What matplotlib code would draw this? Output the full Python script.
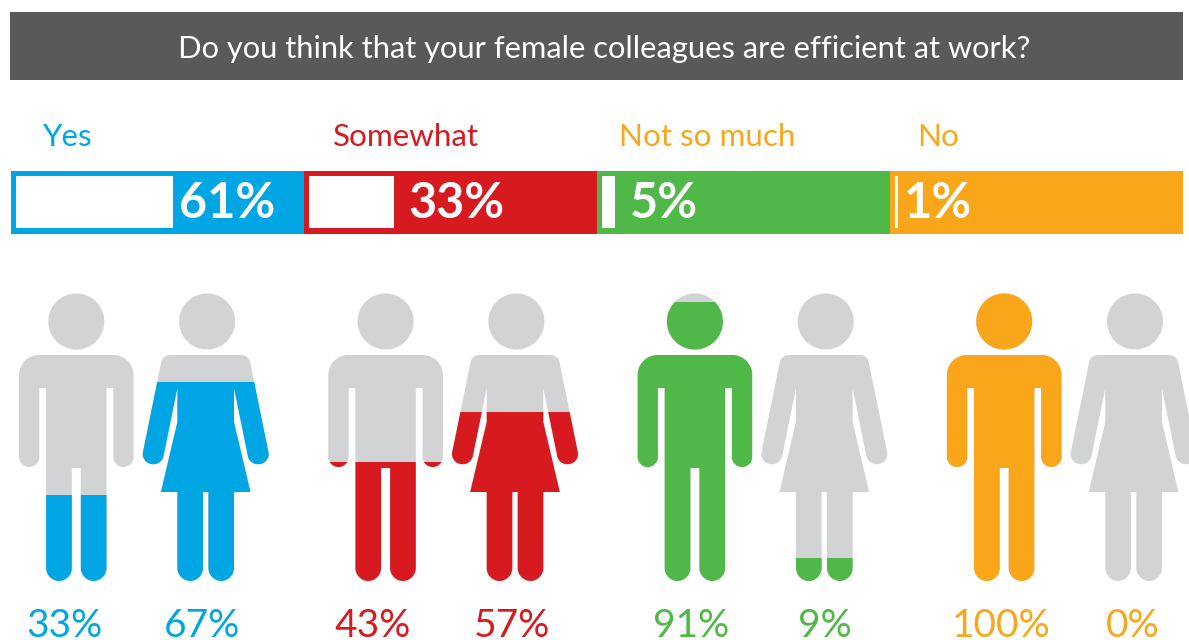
import matplotlib
matplotlib.use('Agg')
import matplotlib.pyplot as plt
from matplotlib.path import Path
from matplotlib.patches import PathPatch
import numpy as np

plt.rcParams['font.family'] = ['Lato', 'Open Sans', 'DejaVu Sans']

question = 'Do you think that your female colleagues are efficient at work?'
answers = ['Yes', 'Somewhat', 'Not so much', 'No']
overall = [61, 33, 5, 1]
male = [33, 43, 91, 100]
female = [67, 57, 9, 0]

answer_colors = ['#00a6e3', '#d71920', '#50b848', '#faa61a']
answer_text_colors = ['#00a6e3', '#d71920', '#faa61a', '#faa61a']
GRAY = '#d1d3d4'
DARK = '#58595b'

# layout, in pixels
answer_x = [43, 333, 619, 917]
overall_x = [179, 408, 630, 904]
male_label_x = [64.5, 373, 691, 1001]
female_label_x = [202, 512, 825, 1133]
BAR_LEFT = 10.5
BAR_W = 293.1
BAR_PX = 2.58       # white bar width per percent
STEP = 309.3        # distance between icon pairs
MALE_X = 76.3
FEMALE_X = 205.7

# fill scales of the two icons, y = base - slope * percent
MALE_BASE, MALE_SLOPE = 605, 3.33
FEMALE_BASE, FEMALE_SLOPE = 585, 3.03

# right half outlines of the icons: dx, y, corner radius
male_half = [(0, 355, 0), (57.3, 355, 20), (57.3, 467, 10), (37, 467, 10), (37, 388, 0),
             (30.2, 388, 0), (30.2, 581, 13), (4.5, 581, 13), (4.5, 468, 0), (0, 468, 0)]
female_half = [(0, 355, 0), (43, 355, 7), (64.8, 462, 10), (44.2, 466, 10), (28.3, 388, 0),
               (28.3, 422, 0), (44.8, 492, 0), (28.3, 492, 0), (28.3, 581, 13),
               (2.7, 581, 13), (2.7, 492, 0), (0, 492, 0)]


def rounded_outline(points):
    # closed polygon with bezier corners
    verts, codes = [], []
    n = len(points)
    k = 0.55
    for i in range(n):
        p = np.array(points[i][:2], float)
        r = points[i][2]
        prev = np.array(points[i - 1][:2], float)
        nxt = np.array(points[(i + 1) % n][:2], float)
        if r == 0:
            verts.append(p)
            codes.append(Path.LINETO)
            continue
        a = p + (prev - p) / np.linalg.norm(prev - p) * r
        b = p + (nxt - p) / np.linalg.norm(nxt - p) * r
        verts += [a, a + (p - a) * k, b + (p - b) * k, b]
        codes += [Path.LINETO, Path.CURVE4, Path.CURVE4, Path.CURVE4]
    codes[0] = Path.MOVETO
    verts.append(verts[0])
    codes.append(Path.CLOSEPOLY)
    return Path(np.array(verts), codes)


def icon_path(half, cx, head_x):
    left = [(-dx, y, r) for dx, y, r in reversed(half[1:-1])]
    outline = half + left
    body = rounded_outline([(cx + dx, y, r) for dx, y, r in outline])
    theta = np.linspace(0, 2 * np.pi, 80)
    head = Path(np.column_stack([head_x + 28 * np.cos(theta), 321.5 + 28 * np.sin(theta)]), closed=False)
    return Path.make_compound_path(body, head)


def draw_icon(path, level, color, label, label_x):
    icon = PathPatch(path, facecolor=GRAY, edgecolor='none')
    ax.add_patch(icon)
    # colored part is a bar from the fill level down, cut by the silhouette
    bars = ax.bar(path.vertices[:, 0].mean(), 640 - level, width=200, bottom=level, color=color)
    bars[0].set_clip_path(icon)
    ax.text(label_x, 637, label, color=color, fontsize=28, ha='center', va='baseline')


fig = plt.figure(figsize=(11.89, 6.40), dpi=100)
ax = fig.add_axes([0, 0, 1, 1])
ax.set_xlim(0, 1189)
ax.set_ylim(640, 0)
ax.axis('off')

# header band
ax.barh(46, 1173, height=68, left=10, color=DARK)
ax.text(604, 58, question, color='white', fontsize=22.2, ha='center', va='baseline')

for i, name in enumerate(answers):
    left = BAR_LEFT + i * BAR_W
    ax.barh(202.5, BAR_W, height=63, left=left, color=answer_colors[i])
    ax.barh(202, overall[i] * BAR_PX, height=52, left=left + 5.5, color='white')
    ax.text(answer_x[i], 146, name, color=answer_text_colors[i], fontsize=22.6, ha='left', va='baseline')
    ax.text(overall_x[i], 218, '%d%%' % overall[i], color='white', fontsize=35,
            fontweight='bold', ha='left', va='baseline')

    draw_icon(icon_path(male_half, MALE_X + i * STEP, MALE_X + i * STEP),
              MALE_BASE - MALE_SLOPE * male[i], answer_colors[i],
              '%d%%' % male[i], male_label_x[i])
    draw_icon(icon_path(female_half, FEMALE_X + i * STEP, FEMALE_X + 1.4 + i * STEP),
              FEMALE_BASE - FEMALE_SLOPE * female[i], answer_colors[i],
              '%d%%' % female[i], female_label_x[i])

ax.set_xlim(0, 1189)
ax.set_ylim(640, 0)
fig.savefig('out.png', dpi=100)
